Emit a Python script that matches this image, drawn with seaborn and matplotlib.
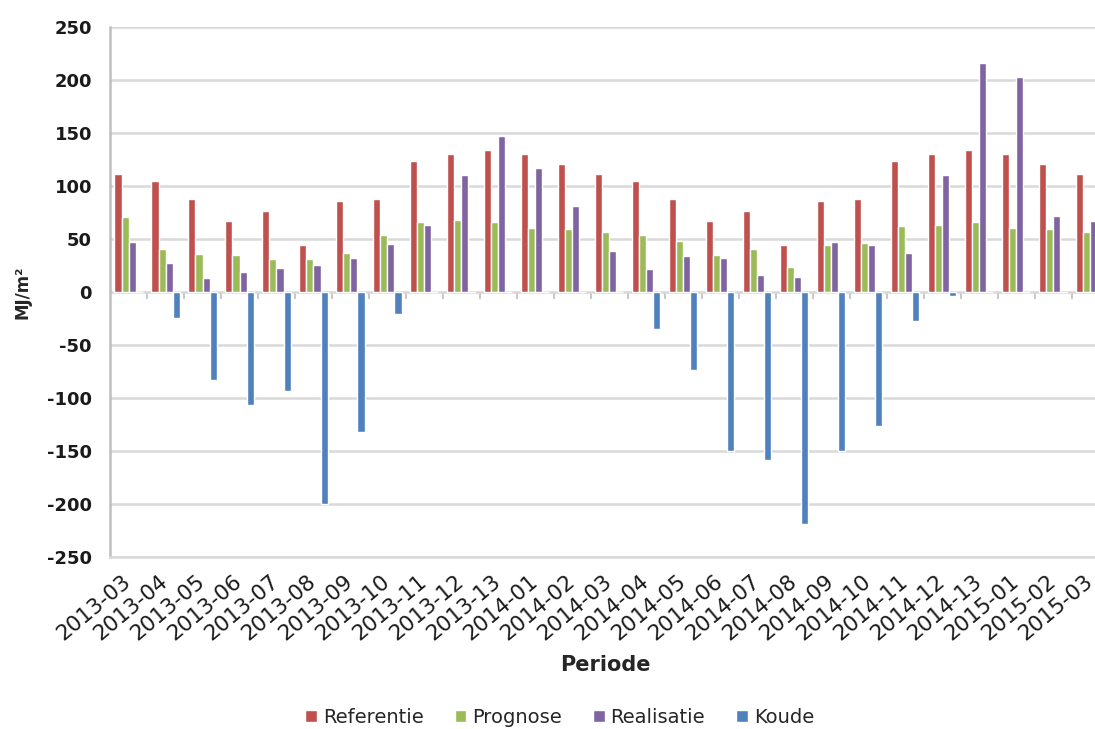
import numpy as np
import pandas as pd
import matplotlib
matplotlib.use("Agg")
import matplotlib.pyplot as plt
import seaborn as sns

periods = ["2013-03", "2013-04", "2013-05", "2013-06", "2013-07", "2013-08", "2013-09",
           "2013-10", "2013-11", "2013-12", "2013-13", "2014-01", "2014-02", "2014-03",
           "2014-04", "2014-05", "2014-06", "2014-07", "2014-08", "2014-09", "2014-10",
           "2014-11", "2014-12", "2014-13", "2015-01", "2015-02", "2015-03"]

referentie = [111, 105, 88, 67, 76, 44, 86, 88, 124, 130, 134, 130, 121, 111,
              105, 88, 67, 76, 44, 86, 88, 124, 130, 134, 130, 121, 111]
prognose = [71, 41, 36, 35, 31, 31, 37, 54, 66, 68, 66, 60, 59, 57,
            54, 48, 35, 41, 24, 44, 46, 62, 63, 66, 60, 59, 57]
realisatie = [47, 27, 13, 19, 23, 25, 32, 45, 63, 110, 147, 117, 81, 39,
              22, 34, 32, 16, 14, 47, 44, 37, 110, 216, 203, 72, 67]
koude = [0, -25, -83, -107, -93, -200, -132, -21, 0, 0, 0, 0, 0, 0,
         -35, -74, -150, -159, -219, -150, -126, -27, -4, 0, 0, 0, -7]

series_names = ["Referentie", "Prognose", "Realisatie", "Koude"]
colors = ["#C0504D", "#9BBB59", "#8064A2", "#4F81BD"]

df = pd.concat([
    pd.DataFrame({"Periode": periods, "Serie": name, "Waarde": vals})
    for name, vals in zip(series_names, [referentie, prognose, realisatie, koude])
])

sns.set_style("white")
plt.rcParams["font.family"] = ["DejaVu Sans"]
plt.rcParams["axes.unicode_minus"] = False

fig = plt.figure(figsize=(10.95, 7.29), dpi=100)
ax = fig.add_axes([0.1005, 0.236, 0.912, 0.727])

sns.barplot(data=df, x="Periode", y="Waarde", hue="Serie", hue_order=series_names,
            palette=colors, width=0.76, ax=ax, saturation=1, legend=True)

n = len(periods)
ax.set_xlim(-0.5, n - 0.5)
ax.set_ylim(-250, 250)
ax.set_yticks(np.arange(-250, 251, 50))
ax.yaxis.grid(True, color="#D9D9D9", linewidth=1.8)
ax.set_axisbelow(True)

for s in ["top", "right"]:
    ax.spines[s].set_visible(False)
ax.spines["left"].set_color("#BFBFBF")
ax.spines["left"].set_linewidth(1.8)
ax.spines["bottom"].set_color("#D9D9D9")
ax.spines["bottom"].set_linewidth(1.8)

ax.tick_params(axis="y", length=7, color="#D0D0D0", width=1.5, labelsize=13, pad=6,
               labelcolor="#1a1a1a")
for lbl in ax.get_yticklabels():
    lbl.set_fontweight("bold")
ax.tick_params(axis="x", length=0, labelsize=15.5, pad=16, labelcolor="#1a1a1a")
ax.set_xticks(range(n))
ax.set_xticklabels(periods, rotation=40, ha="right", va="center", rotation_mode="anchor")

# zero axis line with boundary ticks
sec = ax.secondary_xaxis(0.5)
sec.set_xticks(np.arange(n) + 0.5)
sec.set_xticklabels([])
sec.tick_params(axis="x", direction="in", length=5, color="#BFBFBF", width=1.2)
sec.spines["bottom"].set_color("#BFBFBF")
sec.spines["bottom"].set_linewidth(1.5)

ax.set_xlabel("Periode", fontsize=15, fontweight="bold", va="center")
ax.xaxis.set_label_coords(0.496, -0.204)
ax.set_ylabel("MJ/m²", fontsize=12, fontweight="bold", va="center")
ax.yaxis.set_label_coords(-0.088, 0.5)

handles, labels = ax.get_legend_handles_labels()
ax.legend(handles, labels, loc="center", bbox_to_anchor=(0.511, 0.016),
          bbox_transform=fig.transFigure, ncol=4, frameon=False, fontsize=14,
          handlelength=0.6, handleheight=0.6, handletextpad=0.3, columnspacing=1.6)

fig.savefig("out.png", dpi=100)
